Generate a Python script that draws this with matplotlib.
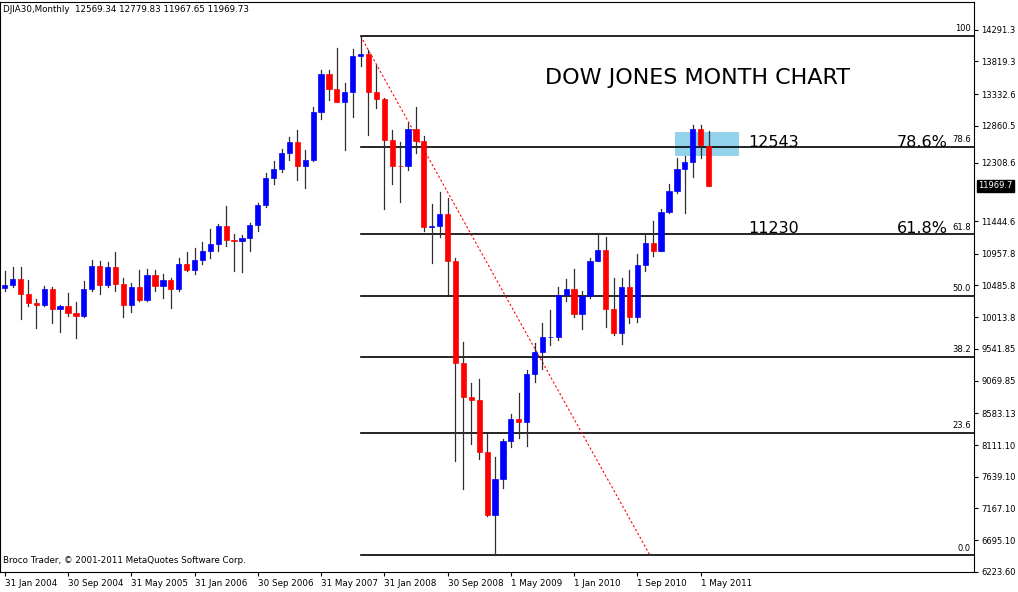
import matplotlib
matplotlib.use("Agg")
import matplotlib.pyplot as plt
from matplotlib.patches import Rectangle

# Monthly DJIA30 candles, Jan 2004 .. Jun 2011
opens = [10453, 10488, 10584, 10358, 10226, 10188, 10435, 10140, 10174, 10080, 10027, 10428,
         10783, 10490, 10766, 10504, 10193, 10467, 10275, 10641, 10482, 10569, 10440, 10806,
         10718, 10865, 10993, 11109, 11367, 11168, 11150, 11186, 11381, 11679, 12081, 12222,
         12463, 12622, 12269, 12354, 13063, 13628, 13409, 13212, 13358, 13896, 13930, 13372,
         13265, 12650, 12266, 12263, 12820, 12638, 11350, 11378, 11544, 10851, 9325, 8829,
         8776, 8001, 7063, 7609, 8168, 8500, 8447, 9172, 9496, 9712, 9713, 10345,
         10428, 10067, 10325, 10857, 11009, 10137, 9774, 10466, 10015, 10788, 11118, 11006,
         11578, 11892, 12226, 12320, 12811, 12569]
highs = [10702, 10754, 10754, 10570, 10280, 10480, 10460, 10200, 10380, 10240, 10550, 10868,
         10850, 10830, 10985, 10600, 10530, 10710, 10730, 10720, 10650, 10600, 10900, 10985,
         11050, 11140, 11330, 11400, 11670, 11250, 11240, 11420, 11720, 12160, 12340, 12520,
         12700, 12795, 12500, 13140, 13690, 13690, 14020, 13500, 14000, 14198, 13990, 13770,
         13280, 12800, 12620, 12900, 13140, 12710, 11700, 11870, 11790, 10900, 9650, 9030,
         9090, 8280, 7930, 8200, 8580, 8880, 9230, 9630, 9920, 10120, 10470, 10580,
         10730, 10400, 10900, 11260, 11210, 10600, 10590, 10720, 10950, 11250, 11450, 11630,
         11990, 12390, 12420, 12880, 12880, 12780]
lows = [10410, 10468, 9990, 10180, 9852, 10180, 9920, 9800, 10030, 9708, 10020, 10400,
        10360, 10470, 10400, 10010, 10090, 10250, 10250, 10400, 10300, 10156, 10400, 10700,
        10650, 10800, 10900, 11000, 11080, 10700, 10680, 11000, 11300, 11650, 12000, 12180,
        12350, 12050, 11940, 12340, 12970, 13250, 13210, 12500, 13000, 13750, 12720, 13120,
        11630, 12000, 11730, 12200, 12460, 11290, 10820, 11200, 10360, 7880, 7450, 8120,
        7900, 7060, 6470, 7470, 8080, 8220, 8090, 9050, 9250, 9600, 9670, 10250,
        10020, 9835, 10300, 10850, 9870, 9750, 9610, 9930, 9940, 10700, 10930, 11000,
        11570, 11860, 11560, 12100, 12380, 11968]
closes = [10488, 10584, 10358, 10226, 10188, 10435, 10140, 10174, 10080, 10027, 10428, 10783,
          10490, 10766, 10504, 10193, 10467, 10275, 10641, 10482, 10569, 10440, 10806, 10718,
          10865, 10993, 11109, 11367, 11168, 11150, 11186, 11381, 11679, 12081, 12222, 12463,
          12622, 12269, 12354, 13063, 13628, 13409, 13212, 13358, 13896, 13930, 13372, 13265,
          12650, 12266, 12263, 12820, 12638, 11350, 11378, 11544, 10851, 9325, 8829, 8776,
          8001, 7063, 7609, 8168, 8500, 8447, 9172, 9496, 9712, 9713, 10345, 10428,
          10067, 10325, 10857, 11009, 10137, 9774, 10466, 10015, 10788, 11118, 11006, 11578,
          11892, 12226, 12320, 12811, 12570, 11970]

date_labels = ["31 Jan 2004", "30 Sep 2004", "31 May 2005", "31 Jan 2006", "30 Sep 2006",
               "31 May 2007", "31 Jan 2008", "30 Sep 2008", "1 May 2009", "1 Jan 2010",
               "1 Sep 2010", "1 May 2011"]
price_ticks = [14291.3, 13819.3, 13332.6, 12860.5, 12308.6, 11444.6, 10957.8, 10485.8,
               10013.8, 9541.85, 9069.85, 8583.13, 8111.10, 7639.10, 7167.10, 6695.10, 6223.60]
fib_levels = ["100", "78.6", "61.8", "50.0", "38.2", "23.6", "0.0"]
fib_ratios = [1.0, 0.786, 0.618, 0.5, 0.382, 0.236, 0.0]
fib_high = 14198
fib_low = 6470

fig = plt.figure(figsize=(10.18, 5.92), dpi=100)
ax = fig.add_axes([0.0, 0.034, 0.957, 0.963])
ax.set_xlim(-0.6, 122.6)
ax.set_ylim(6223.6, 14708)

for i in range(len(opens)):
    o, h, l, c = opens[i], highs[i], lows[i], closes[i]
    col = "#0000ff" if c >= o else "#ff0000"
    ax.plot([i, i], [l, h], color="#303030", lw=0.9, zorder=2)
    ax.add_patch(Rectangle((i - 0.33, min(o, c)), 0.66, max(abs(c - o), 8),
                           facecolor=col, edgecolor=col, lw=0.5, zorder=3))

# fibonacci retracement
peak_i = 45
for lab, r in zip(fib_levels, fib_ratios):
    lvl = fib_low + r * (fib_high - fib_low)
    ax.plot([peak_i, 123], [lvl, lvl], color="black", lw=1.2, zorder=1)
    ax.text(122.2, lvl + 40, lab, fontsize=6, ha="right", va="bottom")
ax.plot([peak_i, 81.6], [fib_high, fib_low], color="red", ls=(0, (2, 2)), lw=0.8, zorder=1)

ax.add_patch(Rectangle((84.8, 12416), 8.0, 357, facecolor="#87ceeb", edgecolor="none",
                       alpha=0.9, zorder=0))

ax.text(68.3, 13580, "DOW JONES MONTH CHART", fontsize=16, va="center")
ax.text(94.0, 12620, "12543", fontsize=11.5, va="center")
ax.text(112.8, 12620, "78.6%", fontsize=11.5, va="center")
ax.text(94.0, 11330, "11230", fontsize=11.5, va="center")
ax.text(112.8, 11330, "61.8%", fontsize=11.5, va="center")

ax.text(0.003, 0.995, "DJIA30,Monthly  12569.34 12779.83 11967.65 11969.73",
        transform=ax.transAxes, fontsize=6.3, va="top")
ax.text(0.003, 0.012, "Broco Trader, © 2001-2011 MetaQuotes Software Corp.",
        transform=ax.transAxes, fontsize=6.3, va="bottom")

ax.yaxis.tick_right()
ax.set_yticks(price_ticks)
ax.set_yticklabels([f"{p:.1f}" if p >= 10000 else f"{p:.2f}" for p in price_ticks], fontsize=6)
ax.set_xticks(range(0, 96, 8))
ax.set_xticklabels(date_labels, fontsize=6.3, ha="left")
ax.tick_params(length=3, pad=2)
ax.text(1.004, (11969.7 - 6223.6) / (14708 - 6223.6), "11969.7", transform=ax.transAxes,
        fontsize=6, color="white", va="center", ha="left",
        bbox=dict(boxstyle="square,pad=0.15", facecolor="black", edgecolor="black"))

fig.savefig("out.png", dpi=100)
